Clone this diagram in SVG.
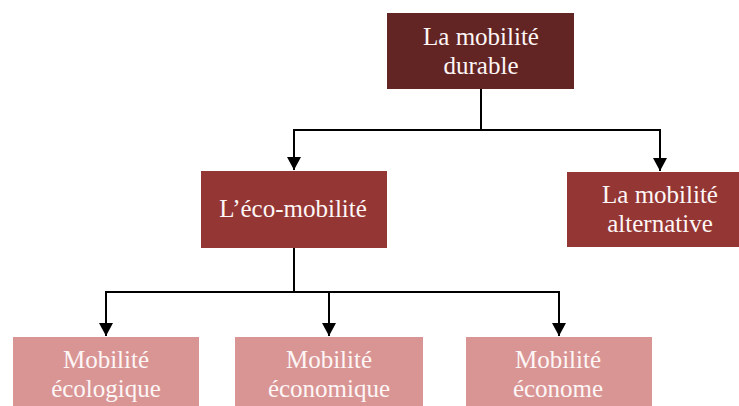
<svg xmlns="http://www.w3.org/2000/svg" width="739" height="406" viewBox="0 0 739 406">
  <defs>
    <marker id="arrow" markerUnits="userSpaceOnUse" markerWidth="14" markerHeight="14" viewBox="0 0 14 14" refX="13" refY="7" orient="auto">
      <path d="M0,0 L13,7 L0,14 Z" fill="#000"/>
    </marker>
    <style>
      .lvl0 { fill: #632523; }
      .lvl1 { fill: #943634; }
      .lvl2 { fill: #D99594; }
      .label { font-family: "Liberation Serif", "Times New Roman", serif; font-size: 25px; fill: #fdf6f6; text-anchor: middle; }
      .link { fill: none; stroke: #000; stroke-width: 2; }
    </style>
  </defs>
  <rect width="739" height="406" fill="#fff"/>

  <g id="connectors">
    <path class="link" d="M481,89 V130"/>
    <path class="link" d="M293,130 H661"/>
    <line class="link" x1="294" y1="129" x2="294" y2="170" marker-end="url(#arrow)"/>
    <line class="link" x1="660" y1="129" x2="660" y2="171" marker-end="url(#arrow)"/>
    <path class="link" d="M294,248 V292"/>
    <path class="link" d="M105,292 H560"/>
    <line class="link" x1="106" y1="291" x2="106" y2="336" marker-end="url(#arrow)"/>
    <line class="link" x1="329" y1="291" x2="329" y2="336" marker-end="url(#arrow)"/>
    <line class="link" x1="559" y1="291" x2="559" y2="336" marker-end="url(#arrow)"/>
  </g>

  <g id="node-durable">
    <rect class="lvl0" x="387" y="13" width="187" height="76"/>
    <text class="label" x="481" y="45">La mobilité</text>
    <text class="label" x="481" y="74">durable</text>
  </g>

  <g id="node-eco">
    <rect class="lvl1" x="201" y="171" width="186" height="77"/>
    <text class="label" x="293" y="217">L’éco-mobilité</text>
  </g>

  <g id="node-alternative">
    <rect class="lvl1" x="567" y="172" width="172" height="75"/>
    <text class="label" x="660" y="203">La mobilité</text>
    <text class="label" x="660" y="232">alternative</text>
  </g>

  <g id="node-ecologique">
    <rect class="lvl2" x="13" y="337" width="186" height="69"/>
    <text class="label" x="106" y="368">Mobilité</text>
    <text class="label" x="106" y="397">écologique</text>
  </g>

  <g id="node-economique">
    <rect class="lvl2" x="235" y="337" width="188" height="69"/>
    <text class="label" x="329" y="368">Mobilité</text>
    <text class="label" x="329" y="397">économique</text>
  </g>

  <g id="node-econome">
    <rect class="lvl2" x="466" y="337" width="186" height="69"/>
    <text class="label" x="558" y="368">Mobilité</text>
    <text class="label" x="558" y="397">économe</text>
  </g>
</svg>
